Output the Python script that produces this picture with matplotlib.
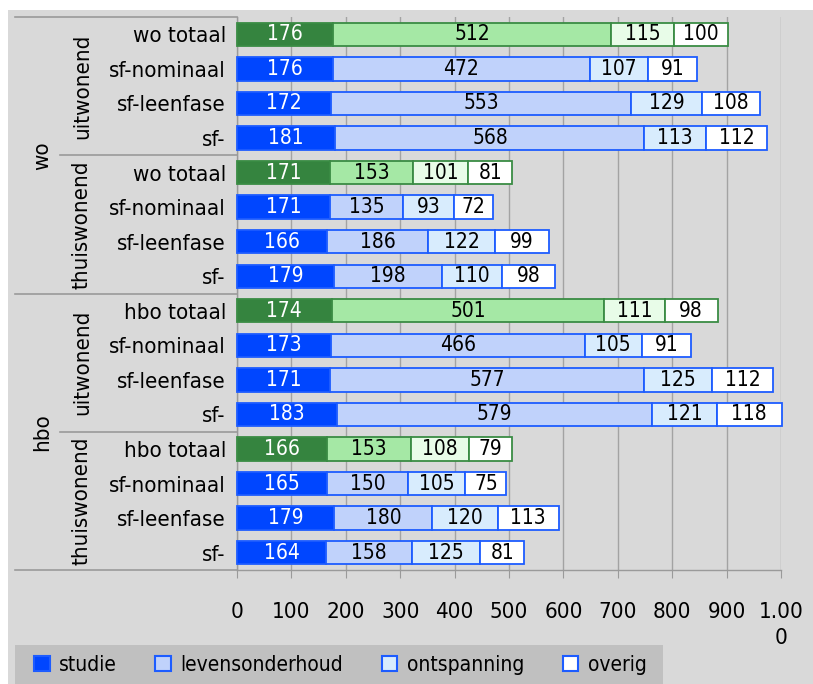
import matplotlib
matplotlib.use("Agg")
import numpy as np
from matplotlib import pyplot as plt
from matplotlib.patches import Rectangle, Patch

plt.rcParams['font.family'] = ['DejaVu Sans']
plt.rcParams['font.stretch'] = 'condensed'

# rows top to bottom
categories = ["wo totaal", "sf-nominaal", "sf-leenfase", "sf-",
              "wo totaal", "sf-nominaal", "sf-leenfase", "sf-",
              "hbo totaal", "sf-nominaal", "sf-leenfase", "sf-",
              "hbo totaal", "sf-nominaal", "sf-leenfase", "sf-"]
studie = [176, 176, 172, 181, 171, 171, 166, 179,
          174, 173, 171, 183, 166, 165, 179, 164]
levensonderhoud = [512, 472, 553, 568, 153, 135, 186, 198,
                   501, 466, 577, 579, 153, 150, 180, 158]
ontspanning = [115, 107, 129, 113, 101, 93, 122, 110,
               111, 105, 125, 121, 108, 105, 120, 125]
overig = [100, 91, 108, 112, 81, 72, 99, 98,
          98, 91, 112, 118, 79, 75, 113, 81]
woon_groups = ["uitwonend", "thuiswonend", "uitwonend", "thuiswonend"]
opl_groups = ["wo", "hbo"]
series_names = ["studie", "levensonderhoud", "ontspanning", "overig"]
xticks = [0, 100, 200, 300, 400, 500, 600, 700, 800, 900, 1000]
xtick_labels = ["0", "100", "200", "300", "400", "500", "600", "700", "800", "900", "1.00\n0"]

bg = "#d9d9d9"
line_col = "#9a9a9a"
blue_cols = ["#0046ff", "#c0d2fb", "#d8ecfd", "#ffffff"]
green_cols = ["#35843f", "#a5e8a5", "#e8fce8", "#ffffff"]
blue_edge = "#1d5cff"
green_edge = "#3a8c44"

fig = plt.figure(figsize=(8.13, 6.84), dpi=100, facecolor="white")
fig.patches.append(Rectangle((8 / 813, 0), 1, 1 - 10 / 684, transform=fig.transFigure,
                             facecolor=bg, edgecolor="none", zorder=-10))
# legend background band
fig.patches.append(Rectangle((15 / 813, 0), (663 - 15) / 813, 39 / 684, transform=fig.transFigure,
                             facecolor="#c0c0c0", edgecolor="none", zorder=-9))
ax = fig.add_axes([237 / 813, 1 - 570 / 684, 544 / 813, 553 / 684])
ax.set_facecolor("none")

y = np.arange(len(categories))
is_total = np.array(["totaal" in c for c in categories])
data = [studie, levensonderhoud, ontspanning, overig]
left = np.zeros(len(categories))
for k, vals in enumerate(data):
    vals = np.array(vals)
    fc = [green_cols[k] if t else blue_cols[k] for t in is_total]
    ec = [green_edge if t else blue_edge for t in is_total]
    bars = ax.barh(y, vals, left=left, height=0.675, color=fc, edgecolor=ec,
                   linewidth=1.3, zorder=3, clip_on=False)
    ax.bar_label(bars, labels=[str(v) for v in vals], label_type="center",
                 color="white" if k == 0 else "black", fontsize=15)
    left += vals

ax.set_ylim(len(categories) - 0.5, -0.5)
ax.set_xlim(0, 1000)
ax.set_yticks(y)
ax.set_yticklabels(categories, fontsize=16)
ax.tick_params(axis="y", length=0, pad=8)
ax.set_xticks(xticks)
ax.set_xticklabels(xtick_labels, fontsize=16, linespacing=1.4)
ax.tick_params(axis="x", length=6, color=line_col, pad=17)

ax.grid(axis="x", color="#a3a3a3", linewidth=1)
ax.set_axisbelow(True)
for s in ["top", "right"]:
    ax.spines[s].set_visible(False)
for s in ["left", "bottom"]:
    ax.spines[s].set_color(line_col)
    ax.spines[s].set_linewidth(1)
    ax.spines[s].set_zorder(1)

# group separators and labels in the category area
trans = ax.get_yaxis_transform()
x_outer = (15 - 237) / 544
x_inner = (60 - 237) / 544
for i in range(0, len(categories) + 1, 4):
    x0 = x_outer if i % 8 == 0 else x_inner
    ax.plot([x0, 0], [i - 0.5, i - 0.5], transform=trans, color=line_col, lw=1.2, clip_on=False)
for j, g in enumerate(woon_groups):
    ax.text((82 - 237) / 544, j * 4 + 1.5, g, transform=trans, rotation=90,
            ha="center", va="center", fontsize=16)
for j, g in enumerate(opl_groups):
    ax.text((42 - 237) / 544, j * 8 + 3.5, g, transform=trans, rotation=90,
            ha="center", va="center", fontsize=16)

handles = [Patch(facecolor=c, edgecolor=blue_edge, linewidth=1.5) for c in blue_cols]
leg = fig.legend(handles, series_names, loc="center left", bbox_to_anchor=(34 / 813, 19 / 684),
                 ncol=4, fontsize=15, frameon=False, handlelength=0.75,
                 handleheight=0.75, handletextpad=0.45, columnspacing=1.85,
                 borderpad=0, borderaxespad=0)

fig.savefig("out.png", dpi=100, facecolor=fig.get_facecolor())
